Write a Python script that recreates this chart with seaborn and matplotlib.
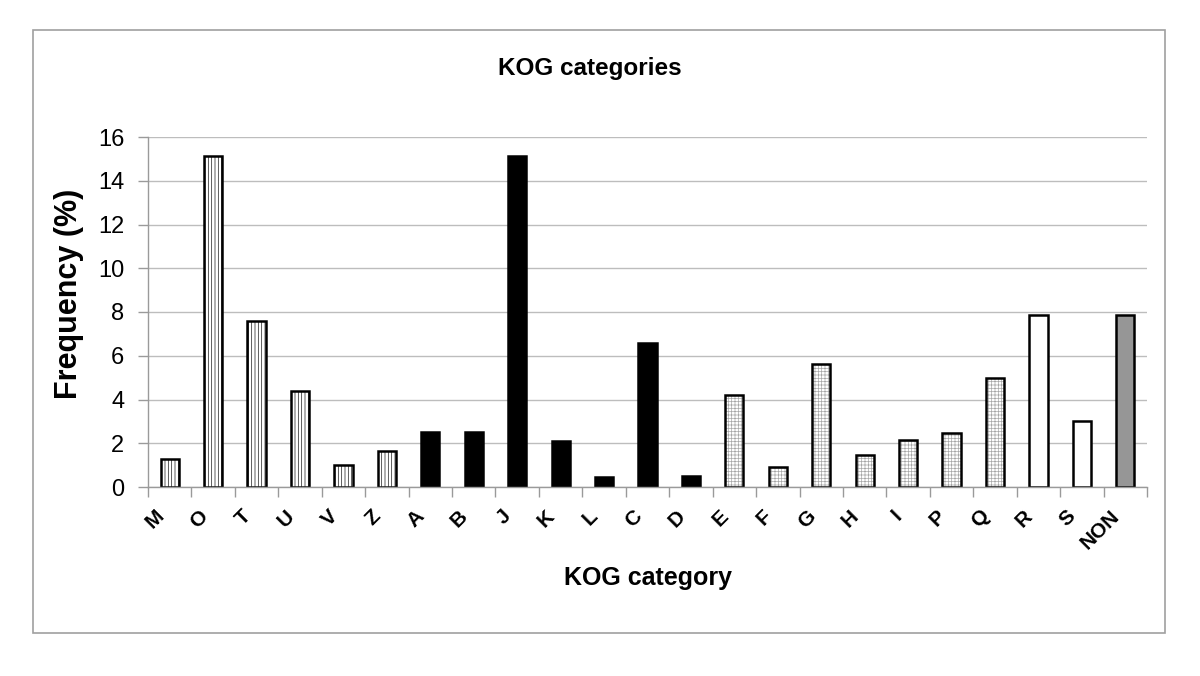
import numpy as np
import pandas as pd
import matplotlib
matplotlib.use("Agg")
import matplotlib.pyplot as plt
from matplotlib.patches import Rectangle
import seaborn as sns

categories = ["M", "O", "T", "U", "V", "Z", "A", "B", "J", "K", "L", "C", "D",
              "E", "F", "G", "H", "I", "P", "Q", "R", "S", "NON"]
frequency = [1.28, 15.15, 7.58, 4.38, 1.0, 1.65, 2.5, 2.5, 15.15, 2.1, 0.46, 6.57, 0.5,
             4.2, 0.91, 5.62, 1.46, 2.15, 2.47, 4.98, 7.86, 3.02, 7.86]
groups = ["lines"] * 6 + ["black"] * 7 + ["dots"] * 7 + ["white"] * 2 + ["gray"]

face = {"lines": "white", "black": "black", "dots": "white", "white": "white", "gray": "#969696"}
hatch = {"lines": "|||||", "black": "", "dots": "+++++", "white": "", "gray": ""}
hatch_col = {"lines": "#1a1a1a", "dots": "#a6a6a6"}

df = pd.DataFrame({"category": categories, "frequency": frequency, "group": groups})

sns.set_theme(style="white")
plt.rcParams["font.family"] = ["Liberation Sans", "DejaVu Sans"]
plt.rcParams["hatch.linewidth"] = 0.5
plt.rcParams["text.color"] = "black"
plt.rcParams["axes.labelcolor"] = "black"
plt.rcParams["xtick.color"] = "black"
plt.rcParams["ytick.color"] = "black"

fig = plt.figure(figsize=(12, 6.76), dpi=100)
ax = fig.add_axes([148 / 1200, 1 - 487 / 676, 999 / 1200, 350 / 676])

palette = {c: face[g] for c, g in zip(categories, groups)}
# filled / hatched layer (hatch colour follows the edge colour)
sns.barplot(data=df, x="category", y="frequency", hue="category", palette=palette,
            legend=False, width=0.42, edgecolor="black", linewidth=0.01, ax=ax,
            order=categories, hue_order=categories)

for bar in ax.patches:
    idx = int(round(bar.get_x() + bar.get_width() / 2))
    g = groups[idx]
    bar.set_facecolor(face[g])
    if hatch[g]:
        bar.set_edgecolor(hatch_col[g])
        bar.set_hatch(hatch[g])
    else:
        bar.set_edgecolor(face[g])

# outline layer
sns.barplot(data=df, x="category", y="frequency", order=categories, color="black",
            fill=False, width=0.42, linewidth=1.8, ax=ax, errorbar=None)

ax.set_xlim(-0.5, len(categories) - 0.5)
ax.set_ylim(0, 16)
ax.set_yticks(np.arange(0, 17, 2))
ax.yaxis.grid(True, color="#bdbdbd", linewidth=1)
ax.set_axisbelow(True)

for s in ["top", "right"]:
    ax.spines[s].set_visible(False)
for s in ["left", "bottom"]:
    ax.spines[s].set_color("#9a9a9a")
    ax.spines[s].set_linewidth(1)

# label anchors shifted slightly left of bar centres (Excel-style rotated labels)
label_shift = 0.36
ax.set_xticks(np.arange(len(categories)) - label_shift)
ax.set_xticklabels(categories, rotation=45, ha="right", rotation_mode="anchor",
                   fontsize=15, fontweight="bold")
ax.tick_params(axis="x", which="major", length=0, pad=14)
ax.set_xticks(np.arange(-0.5, len(categories), 1), minor=True)
ax.tick_params(axis="x", which="minor", length=7, color="#9a9a9a", width=1, direction="out", bottom=True)
ax.tick_params(axis="y", length=7, color="#9a9a9a", width=1, direction="out", left=True,
               labelsize=17, pad=10, labelcolor="black")

ax.set_ylabel("Frequency (%)", fontsize=22, fontweight="bold")
ax.yaxis.set_label_coords(-0.064, 0.553)
ax.set_xlabel("KOG category", fontsize=18, fontweight="bold")
ax.xaxis.set_label_coords(0.5, -0.225)

fig.text(590 / 1200, 1 - 68 / 676, "KOG categories", ha="center", va="center",
         fontsize=17.5, fontweight="bold")

fig.patches.append(Rectangle((33 / 1200, 1 - 633 / 676), (1165 - 33) / 1200, (633 - 30) / 676,
                             transform=fig.transFigure, fill=False, edgecolor="#a0a0a0",
                             linewidth=1.2))

fig.savefig("out.png", dpi=100, facecolor="white")
